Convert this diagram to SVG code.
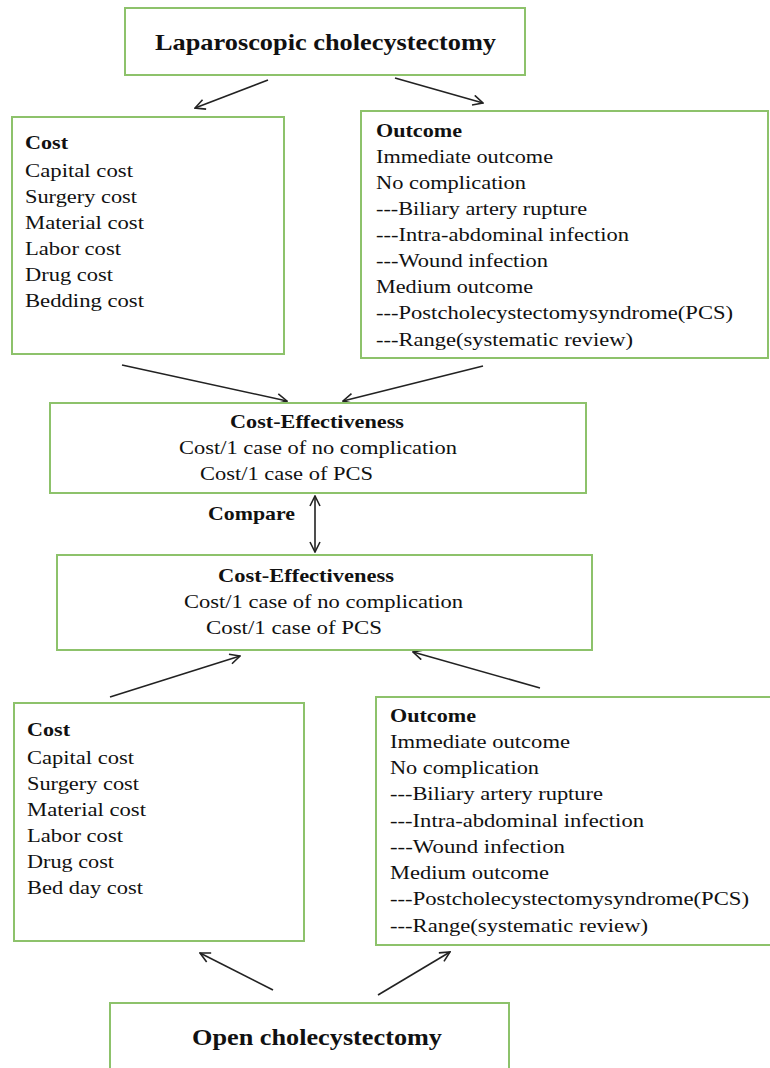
<svg xmlns="http://www.w3.org/2000/svg" width="770" height="1068" viewBox="0 0 770 1068">
<style>
.box{fill:#fff;stroke:#8dc26b;stroke-width:2}
text{font-family:"Liberation Serif","Times New Roman",serif;fill:#111;font-size:19px}
.b{font-weight:bold}
.t{font-weight:bold;font-size:23px}
.c{stroke:#222;stroke-width:1.6;fill:none}
</style>
<defs>
<marker id="ah" viewBox="0 0 12 12" refX="11" refY="6" markerWidth="12" markerHeight="12" markerUnits="userSpaceOnUse" orient="auto-start-reverse">
<path d="M1,1 L11,6 L1,11" fill="none" stroke="#222" stroke-width="1.6"/>
</marker>
</defs>
<rect width="770" height="1068" fill="#fff"/>
<g id="connectors">
<line class="c" x1="268" y1="80" x2="195" y2="108" marker-end="url(#ah)"/>
<line class="c" x1="395" y1="78" x2="483" y2="103" marker-end="url(#ah)"/>
<line class="c" x1="122" y1="365" x2="287" y2="401" marker-end="url(#ah)"/>
<line class="c" x1="483" y1="366" x2="343" y2="401" marker-end="url(#ah)"/>
<line class="c" x1="315" y1="496" x2="315" y2="552" marker-start="url(#ah)" marker-end="url(#ah)"/>
<line class="c" x1="110" y1="697" x2="240" y2="656" marker-end="url(#ah)"/>
<line class="c" x1="540" y1="688" x2="413" y2="652" marker-end="url(#ah)"/>
<line class="c" x1="273" y1="990" x2="200" y2="953" marker-end="url(#ah)"/>
<line class="c" x1="378" y1="995" x2="450" y2="952" marker-end="url(#ah)"/>
</g>
<g id="lap">
<rect class="box" x="125" y="8" width="400" height="67"/>
<text class="t" x="155" y="50" textLength="341" lengthAdjust="spacingAndGlyphs">Laparoscopic cholecystectomy</text>
</g>
<g id="lapCost">
<rect class="box" x="12" y="117" width="272" height="237"/>
<text class="b" x="25" y="149" textLength="43" lengthAdjust="spacingAndGlyphs">Cost</text>
<text x="25" y="177" textLength="108" lengthAdjust="spacingAndGlyphs">Capital cost</text>
<text x="25" y="203" textLength="112" lengthAdjust="spacingAndGlyphs">Surgery cost</text>
<text x="25" y="229" textLength="119" lengthAdjust="spacingAndGlyphs">Material cost</text>
<text x="25" y="255" textLength="96" lengthAdjust="spacingAndGlyphs">Labor cost</text>
<text x="25" y="281" textLength="88" lengthAdjust="spacingAndGlyphs">Drug cost</text>
<text x="25" y="307" textLength="119" lengthAdjust="spacingAndGlyphs">Bedding cost</text>
</g>
<g id="lapOutcome">
<rect class="box" x="361" y="111" width="407" height="247"/>
<text class="b" x="376" y="137" textLength="86" lengthAdjust="spacingAndGlyphs">Outcome</text>
<text x="376" y="163" textLength="177" lengthAdjust="spacingAndGlyphs">Immediate outcome</text>
<text x="376" y="189" textLength="150" lengthAdjust="spacingAndGlyphs">No complication</text>
<text x="376" y="215" textLength="211" lengthAdjust="spacingAndGlyphs">---Biliary artery rupture</text>
<text x="376" y="241" textLength="253" lengthAdjust="spacingAndGlyphs">---Intra-abdominal infection</text>
<text x="376" y="267" textLength="172" lengthAdjust="spacingAndGlyphs">---Wound infection</text>
<text x="376" y="293" textLength="157" lengthAdjust="spacingAndGlyphs">Medium outcome</text>
<text x="376" y="319" textLength="357" lengthAdjust="spacingAndGlyphs">---Postcholecystectomysyndrome(PCS)</text>
<text x="376" y="346" textLength="257" lengthAdjust="spacingAndGlyphs">---Range(systematic review)</text>
</g>
<g id="ce1">
<rect class="box" x="50" y="403" width="536" height="90"/>
<text class="b" x="230" y="428" textLength="174" lengthAdjust="spacingAndGlyphs">Cost-Effectiveness</text>
<text x="179" y="454" textLength="278" lengthAdjust="spacingAndGlyphs">Cost/1 case of no complication</text>
<text x="200" y="480" textLength="173" lengthAdjust="spacingAndGlyphs">Cost/1 case of PCS</text>
</g>
<g id="compare">
<text class="b" x="208" y="520" textLength="87" lengthAdjust="spacingAndGlyphs">Compare</text>
</g>
<g id="ce2">
<rect class="box" x="57" y="555" width="535" height="95"/>
<text class="b" x="218" y="582" textLength="176" lengthAdjust="spacingAndGlyphs">Cost-Effectiveness</text>
<text x="184" y="608" textLength="279" lengthAdjust="spacingAndGlyphs">Cost/1 case of no complication</text>
<text x="206" y="634" textLength="176" lengthAdjust="spacingAndGlyphs">Cost/1 case of PCS</text>
</g>
<g id="openCost">
<rect class="box" x="14" y="703" width="290" height="238"/>
<text class="b" x="27" y="736" textLength="43" lengthAdjust="spacingAndGlyphs">Cost</text>
<text x="27" y="764" textLength="107" lengthAdjust="spacingAndGlyphs">Capital cost</text>
<text x="27" y="790" textLength="112" lengthAdjust="spacingAndGlyphs">Surgery cost</text>
<text x="27" y="816" textLength="119" lengthAdjust="spacingAndGlyphs">Material cost</text>
<text x="27" y="842" textLength="96" lengthAdjust="spacingAndGlyphs">Labor cost</text>
<text x="27" y="868" textLength="87" lengthAdjust="spacingAndGlyphs">Drug cost</text>
<text x="27" y="894" textLength="116" lengthAdjust="spacingAndGlyphs">Bed day cost</text>
</g>
<g id="openOutcome">
<rect class="box" x="376" y="697" width="396" height="248"/>
<text class="b" x="390" y="722" textLength="86" lengthAdjust="spacingAndGlyphs">Outcome</text>
<text x="390" y="748" textLength="180" lengthAdjust="spacingAndGlyphs">Immediate outcome</text>
<text x="390" y="774" textLength="149" lengthAdjust="spacingAndGlyphs">No complication</text>
<text x="390" y="800" textLength="213" lengthAdjust="spacingAndGlyphs">---Biliary artery rupture</text>
<text x="390" y="827" textLength="254" lengthAdjust="spacingAndGlyphs">---Intra-abdominal infection</text>
<text x="390" y="853" textLength="175" lengthAdjust="spacingAndGlyphs">---Wound infection</text>
<text x="390" y="879" textLength="159" lengthAdjust="spacingAndGlyphs">Medium outcome</text>
<text x="390" y="905" textLength="359" lengthAdjust="spacingAndGlyphs">---Postcholecystectomysyndrome(PCS)</text>
<text x="390" y="932" textLength="258" lengthAdjust="spacingAndGlyphs">---Range(systematic review)</text>
</g>
<g id="open">
<rect class="box" x="110" y="1003" width="399" height="80"/>
<text class="t" x="192" y="1045" textLength="250" lengthAdjust="spacingAndGlyphs">Open cholecystectomy</text>
</g>
</svg>
